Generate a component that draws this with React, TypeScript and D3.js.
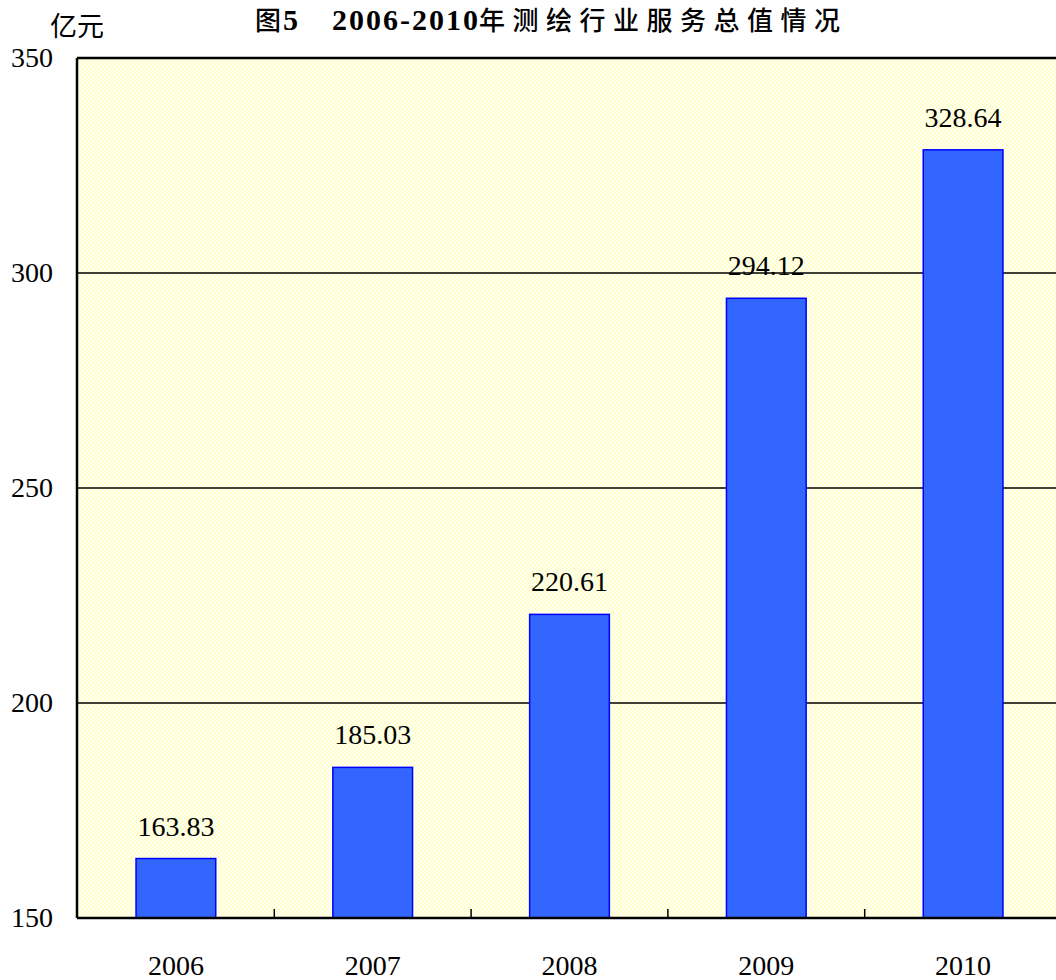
import React, { useEffect, useRef } from 'react';
import * as d3 from 'd3';

const years = ['2006', '2007', '2008', '2009', '2010'];
const values = [163.83, 185.03, 220.61, 294.12, 328.64];
const yTicks = [150, 200, 250, 300, 350];
const titleParts = ['图', '5', '2006-2010', '年测绘行业服务总值情况'];
const unit = '亿元';

const W = 1056;
const H = 980;

const App = () => {
  const ref = useRef<SVGSVGElement>(null);

  useEffect(() => {
    const svg = d3.select(ref.current);
    svg.selectAll('*').remove();

    const left = 77, top = 58, right = 1062, bottom = 918;
    const labelFont = '28px "Liberation Serif", serif';
    const cjk = '"Noto Sans CJK SC", sans-serif';

    const x = d3.scaleBand().domain(years).range([left, right]).paddingInner(0.595).paddingOuter(0.3);
    const y = d3.scaleLinear().domain([150, 350]).range([bottom, top]);

    const defs = svg.append('defs');
    const pat = defs.append('pattern')
      .attr('id', 'bgcheck').attr('width', 4).attr('height', 4)
      .attr('patternUnits', 'userSpaceOnUse');
    pat.append('rect').attr('width', 4).attr('height', 4).attr('fill', '#ffffcc');
    pat.append('rect').attr('width', 2).attr('height', 2).attr('fill', '#fffff2');
    pat.append('rect').attr('x', 2).attr('y', 2).attr('width', 2).attr('height', 2).attr('fill', '#fffff2');

    svg.append('rect')
      .attr('x', left).attr('y', top)
      .attr('width', right - left).attr('height', bottom - top)
      .attr('fill', 'url(#bgcheck)');

    // gridlines
    svg.selectAll('line.grid')
      .data(yTicks.filter(t => t !== 150 && t !== 350))
      .enter().append('line')
      .attr('x1', left).attr('x2', right)
      .attr('y1', d => y(d)).attr('y2', d => y(d))
      .attr('stroke', '#000').attr('stroke-width', 1.3);

    // bars
    svg.selectAll('rect.bar')
      .data(values)
      .enter().append('rect')
      .attr('x', (d, i) => x(years[i])!)
      .attr('y', d => y(d))
      .attr('width', x.bandwidth())
      .attr('height', d => bottom - y(d))
      .attr('fill', '#3366ff')
      .attr('stroke', '#0000ff')
      .attr('stroke-width', 1.5);

    // value labels
    svg.selectAll('text.val')
      .data(values)
      .enter().append('text')
      .attr('x', (d, i) => x(years[i])! + x.bandwidth() / 2)
      .attr('y', d => y(d) - 23)
      .attr('text-anchor', 'middle')
      .style('font', labelFont)
      .style('fill', '#000')
      .text(d => d.toFixed(2));

    // x category tick marks between bands
    const step = x.step();
    svg.selectAll('line.xtick')
      .data(years.slice(1))
      .enter().append('line')
      .attr('x1', d => x(d)! - (step - x.bandwidth()) / 2)
      .attr('x2', d => x(d)! - (step - x.bandwidth()) / 2)
      .attr('y1', bottom).attr('y2', bottom - 9)
      .attr('stroke', '#000').attr('stroke-width', 1.5);

    // axes frame
    svg.append('line').attr('x1', left).attr('x2', left).attr('y1', top).attr('y2', bottom)
      .attr('stroke', '#000').attr('stroke-width', 2.5);
    svg.append('line').attr('x1', left).attr('x2', right).attr('y1', top).attr('y2', top)
      .attr('stroke', '#000').attr('stroke-width', 2.5);
    svg.append('line').attr('x1', left).attr('x2', right).attr('y1', bottom).attr('y2', bottom)
      .attr('stroke', '#000').attr('stroke-width', 2.5);

    // y tick labels
    svg.selectAll('text.ytick')
      .data(yTicks)
      .enter().append('text')
      .attr('x', 53)
      .attr('y', d => y(d) + 9)
      .attr('text-anchor', 'end')
      .style('font', labelFont)
      .style('fill', '#000')
      .text(d => d);

    // x labels
    svg.selectAll('text.xlab')
      .data(years)
      .enter().append('text')
      .attr('x', d => x(d)! + x.bandwidth() / 2)
      .attr('y', 975)
      .attr('text-anchor', 'middle')
      .style('font', labelFont)
      .style('fill', '#000')
      .text(d => d);

    svg.append('text')
      .attr('x', 50).attr('y', 36)
      .style('font', `27px ${cjk}`)
      .style('fill', '#000')
      .text(unit);

    // title, mixed CJK + bold serif digits
    const t = svg.append('text').attr('y', 30).style('fill', '#000');
    t.append('tspan').attr('x', 255)
      .style('font', `500 26px ${cjk}`).text(titleParts[0]);
    t.append('tspan').attr('x', 283)
      .style('font', 'bold 30px "Liberation Serif", serif').text(titleParts[1]);
    t.append('tspan').attr('x', 332)
      .style('font', 'bold 30px "Liberation Serif", serif')
      .style('letter-spacing', '2px').text(titleParts[2]);
    t.append('tspan').attr('x', 479)
      .style('font', `500 26px ${cjk}`)
      .style('letter-spacing', '7.5px').text(titleParts[3]);
  }, []);

  return (
    <svg ref={ref} width={W} height={H}
      style={{ position: 'absolute', left: 0, top: 0, display: 'block', background: '#fff' }} />
  );
};

export default App;
